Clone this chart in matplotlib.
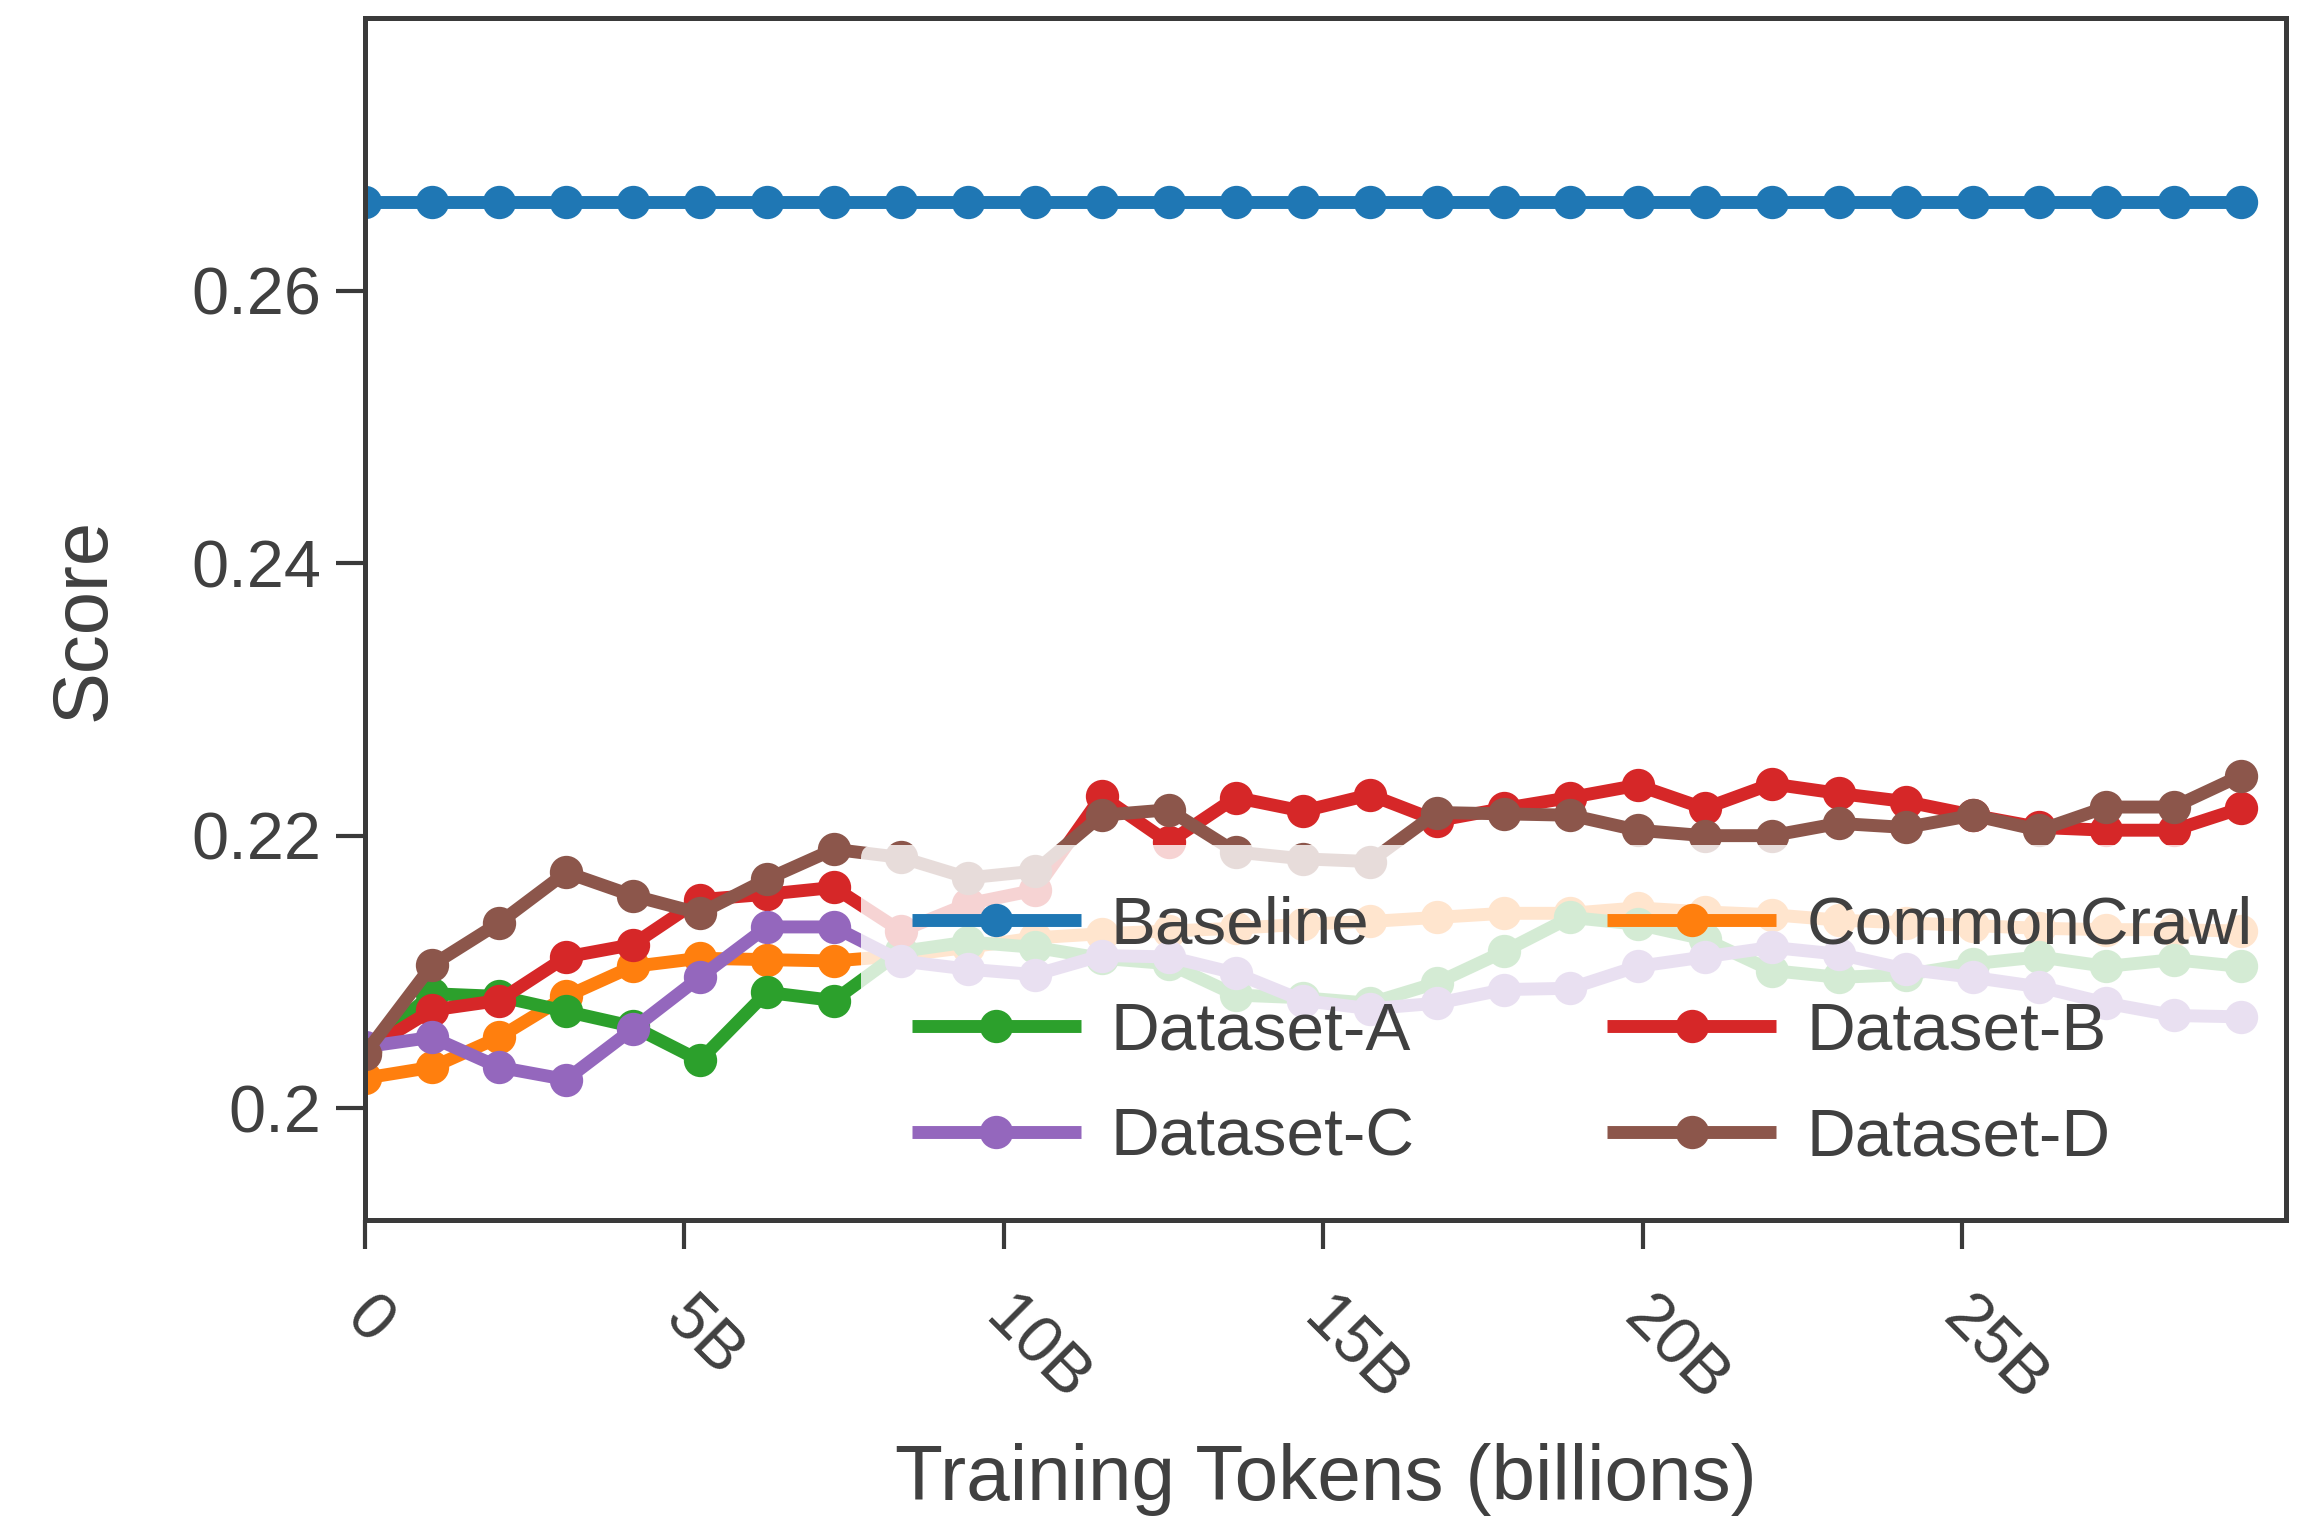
import matplotlib
matplotlib.use("Agg")
import matplotlib.pyplot as plt
from matplotlib.ticker import FuncFormatter
from matplotlib.transforms import ScaledTranslation

# Training tokens (billions) at each evaluation checkpoint
tokens = [0.00, 1.05, 2.10, 3.15, 4.19, 5.24, 6.29, 7.34, 8.39, 9.44,
          10.49, 11.53, 12.58, 13.63, 14.68, 15.73, 16.78, 17.83, 18.87, 19.92,
          20.97, 22.02, 23.07, 24.12, 25.17, 26.21, 27.26, 28.31, 29.36]

baseline = [0.2665, 0.2665, 0.2665, 0.2665, 0.2665, 0.2665, 0.2665, 0.2665, 0.2665, 0.2665,
            0.2665, 0.2665, 0.2665, 0.2665, 0.2665, 0.2665, 0.2665, 0.2665, 0.2665, 0.2665,
            0.2665, 0.2665, 0.2665, 0.2665, 0.2665, 0.2665, 0.2665, 0.2665, 0.2665]
commoncrawl = [0.2022, 0.2030, 0.2052, 0.2082, 0.2104, 0.2110, 0.2109, 0.2108, 0.2112, 0.2118,
               0.2125, 0.2128, 0.2130, 0.2132, 0.2135, 0.2137, 0.2140, 0.2143, 0.2143, 0.2147,
               0.2144, 0.2142, 0.2138, 0.2136, 0.2134, 0.2132, 0.2131, 0.2131, 0.2130]
dataset_a = [0.2042, 0.2084, 0.2082, 0.2071, 0.2060, 0.2035, 0.2085, 0.2079, 0.2115, 0.2122,
             0.2118, 0.2110, 0.2106, 0.2083, 0.2081, 0.2077, 0.2092, 0.2115, 0.2140, 0.2135,
             0.2124, 0.2101, 0.2096, 0.2098, 0.2106, 0.2111, 0.2104, 0.2109, 0.2104]
dataset_b = [0.2042, 0.2072, 0.2079, 0.2111, 0.2120, 0.2153, 0.2157, 0.2162, 0.2130, 0.2150,
             0.2160, 0.2229, 0.2195, 0.2228, 0.2218, 0.2230, 0.2211, 0.2220, 0.2228, 0.2237,
             0.2220, 0.2238, 0.2231, 0.2225, 0.2215, 0.2206, 0.2204, 0.2204, 0.2220]
dataset_c = [0.2045, 0.2052, 0.2030, 0.2021, 0.2058, 0.2096, 0.2133, 0.2133, 0.2108, 0.2102,
             0.2098, 0.2112, 0.2111, 0.2099, 0.2079, 0.2073, 0.2077, 0.2087, 0.2088, 0.2104,
             0.2111, 0.2118, 0.2113, 0.2102, 0.2096, 0.2089, 0.2077, 0.2068, 0.2067]
dataset_d = [0.2040, 0.2105, 0.2136, 0.2173, 0.2156, 0.2143, 0.2168, 0.2190, 0.2184, 0.2169,
             0.2174, 0.2215, 0.2219, 0.2188, 0.2183, 0.2181, 0.2217, 0.2216, 0.2215, 0.2204,
             0.2200, 0.2200, 0.2209, 0.2206, 0.2215, 0.2204, 0.2221, 0.2221, 0.2244]

series_names = ["Baseline", "CommonCrawl", "Dataset-A", "Dataset-B", "Dataset-C", "Dataset-D"]
series_values = [baseline, commoncrawl, dataset_a, dataset_b, dataset_c, dataset_d]
series_colors = ["#1f77b4", "#ff7f0e", "#2ca02c", "#d62728", "#9467bd", "#8c564b"]
legend_order = ["Baseline", "Dataset-A", "Dataset-C", "CommonCrawl", "Dataset-B", "Dataset-D"]

x_ticks = [0, 5, 10, 15, 20, 25]
y_ticks = [0.20, 0.22, 0.24, 0.26]

TEXT = "#404040"
EDGE = "#3a3a3a"

plt.rcParams["font.family"] = ["Liberation Sans", "DejaVu Sans"]
plt.rcParams["text.color"] = TEXT
plt.rcParams["axes.labelcolor"] = TEXT
plt.rcParams["xtick.color"] = EDGE
plt.rcParams["ytick.color"] = EDGE
plt.rcParams["xtick.labelcolor"] = TEXT
plt.rcParams["ytick.labelcolor"] = TEXT

fig = plt.figure(figsize=(7.70, 5.07), dpi=300)
ax = fig.add_axes([0.158, 0.198, 0.8316, 0.790])

handles = {}
for name, vals, col in zip(series_names, series_values, series_colors):
    (h,) = ax.plot(tokens, vals, color=col, lw=3.1, marker="o", ms=7,
                   label=name, solid_capstyle="butt")
    handles[name] = h

ax.set_xlim(0, 30.07)
ax.set_ylim(0.1918, 0.280)

ax.set_xticks(x_ticks)
ax.xaxis.set_major_formatter(FuncFormatter(lambda v, p: "0" if v == 0 else f"{v:g}B"))
ax.set_yticks(y_ticks)
ax.yaxis.set_major_formatter(FuncFormatter(lambda v, p: f"{v:g}"))

for s in ax.spines.values():
    s.set_linewidth(1.2)
    s.set_color(EDGE)

ax.tick_params(axis="both", which="major", length=7, width=1.0, labelsize=16)
ax.tick_params(axis="x", pad=9)
nudge = ScaledTranslation(0.04, 0, fig.dpi_scale_trans)
for lab in ax.get_xticklabels():
    lab.set_rotation(-45)
    lab.set_ha("left")
    lab.set_va("top")
    lab.set_rotation_mode("anchor")
    lab.set_transform(lab.get_transform() + nudge)

ax.set_xlabel("Training Tokens (billions)", fontsize=18.8, labelpad=7)
ax.set_ylabel("Score", fontsize=18.7, labelpad=17)

leg = ax.legend([handles[n] for n in legend_order], legend_order,
                loc="lower right", bbox_to_anchor=(1.009, 0.0), ncol=2,
                fontsize=16.2, numpoints=1,
                handlelength=2.5, handletextpad=0.45, columnspacing=2.85,
                labelspacing=0.65, framealpha=0.8, borderpad=0.75,
                borderaxespad=0.0)
leg.get_frame().set_edgecolor("none")
leg.get_frame().set_facecolor("white")
# keep the frame beneath the axes spines so the box edges stay visible
leg.set_zorder(2.4)

fig.savefig("out.png", dpi=300)
